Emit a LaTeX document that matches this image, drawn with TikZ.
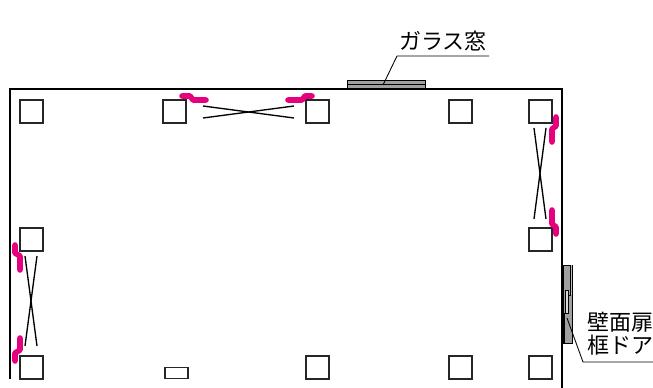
\documentclass[tikz,border=0pt]{standalone}
\usepackage{fontspec}
\newfontfamily\cjk{Noto Sans CJK JP}
\definecolor{pinkmark}{HTML}{E6007E}
\definecolor{fillgray}{HTML}{A0A0A0}
\tikzset{
  x=0.75pt,y=-0.75pt,
  wall/.style={draw=black,line width=0.85pt},
  thin line/.style={draw=black,line width=0.65pt},
  columnbox/.style={draw=black!85,line width=1.1pt,fill=white,minimum width=17.25pt,minimum height=17.25pt,inner sep=0pt,outer sep=0pt},
  brace line/.style={draw=black,line width=1pt},
  pinkpath/.style={draw=pinkmark,line width=4.2pt,line cap=round,line join=round},
  label text/.style={font=\cjk\fontsize{16.5pt}{17pt}\selectfont,inner sep=0pt,anchor=center,text=black},
}
\begin{document}
\begin{tikzpicture}
\useasboundingbox (0,0) rectangle (653,388);
% window
\draw[thin line,fill=fillgray] (347,80) rectangle (425,89);
\draw[thin line] (347,84.5) -- (425,84.5);
% door
\draw[thin line,fill=fillgray] (563,265) rectangle (572,343);
\fill[black!25] (570,265.5) rectangle (571.6,295);
\draw[thin line] (570,265) -- (570,295) -- (568,295);
% walls
\draw[wall] (10,379) -- (10,89) -- (562,89) -- (562,388);
% door leaves
\draw[thin line,fill=black!15] (565.5,290) rectangle (568.5,313);
\draw[thin line,line width=1.2pt] (564,313) -- (564,343);
% columns
\foreach \n/\x/\y in {a/31.5/111.5,b/174.5/111.5,c/317.5/111.5,d/460.5/111.5,e/540.5/111.5,
  f/31.5/239.5,g/540.5/239.5,h/31.5/367.5,i/317.5/367.5,j/460.5/367.5,k/540.5/367.5}
  \node[columnbox] (\n) at (\x,\y) {};
\node[columnbox,minimum height=8.6pt] (m) at (176.5,373) {};
% cross braces
\draw[brace line] (203,106) -- (294,118);
\draw[brace line] (203,118) -- (294,106);
\draw[brace line] (534,128) -- (546,219);
\draw[brace line] (546,128) -- (534,219);
\draw[brace line] (25,256) -- (37,346);
\draw[brace line] (37,256) -- (25,346);
% pink marks
\draw[pinkpath] (182,96) -- (190,96) -- (193,100) -- (206,100);
\draw[pinkpath] (288,100) -- (302,100) -- (305,96) -- (312,96);
\draw[pinkpath] (556,117) -- (556,126) -- (552,129) -- (552,142);
\draw[pinkpath] (552,210) -- (552,224) -- (556,227) -- (556,234);
\draw[pinkpath] (15,245) -- (15,253) -- (20,256) -- (20,270);
\draw[pinkpath] (20,338) -- (20,350) -- (15,353) -- (15,361);
% leaders
\coordinate (g1) at (383,85);
\coordinate (g2) at (397,56);
\coordinate (g3) at (489,56);
\draw[thin line] (g1) -- (g2) -- (g3);
\coordinate (d1) at (567,318);
\coordinate (d2) at (583,362);
\coordinate (d3) at (653,362);
\draw[thin line] (d1) -- (d2) -- (d3);
% labels
\node[label text] (lg) at (443,41) {ガラス窓};
\node[label text] (ld1) at (620,322) {壁面扉};
\node[label text] (ld2) at (620,345) {框ドア};
\end{tikzpicture}
\end{document}
